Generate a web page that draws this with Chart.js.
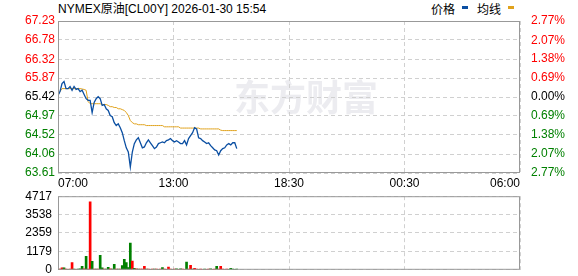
<!DOCTYPE html>
<html>
<head>
<meta charset="utf-8">
<script src="https://cdn.jsdelivr.net/npm/chart.js@4"></script>
<style>
  body { margin: 0; width: 578px; height: 276px; background: #fff; position: relative; overflow: hidden; }
  .txt { position: absolute; font-family: "Liberation Sans", "Noto Sans CJK SC", sans-serif; font-size: 12px; color: #000; white-space: nowrap; line-height: 14px; }
  .key { position: absolute; width: 6px; height: 3px; }
  #price { position: absolute; left: 0; top: 0; }
  #volume { position: absolute; left: 0; top: 183px; }
</style>
</head>
<body>
<div class="txt" id="title" style="left:58px;top:2px;">NYMEX原油[CL00Y] 2026-01-30 15:54</div>
<div class="txt" style="left:431px;top:2px;font-family:'Noto Sans CJK SC';">价格</div>
<div class="key" style="left:462px;top:6px;background:#0b4fa2;"></div>
<div class="txt" style="left:477px;top:2px;font-family:'Noto Sans CJK SC';">均线</div>
<div class="key" style="left:508px;top:6px;background:#e0a21c;"></div>
<canvas id="price" width="578" height="190"></canvas>
<canvas id="volume" width="578" height="100"></canvas>
<script>
// one sample every 6 minutes from 07:00
const step = 6;
const totalMinutes = 1380;
const prevClose = 65.42;

const timeLabels = ["07:00", "13:00", "18:30", "00:30", "06:00"];
const priceTicks = [63.61, 64.06, 64.52, 64.97, 65.42, 65.87, 66.32, 66.78, 67.23];
const pctTicks = [-2.77, -2.07, -1.38, -0.69, 0, 0.69, 1.38, 2.07, 2.77];
const volTicks = [0, 1179, 2359, 3538, 4717];

const price = [
  65.46, 65.55, 65.74, 65.79, 65.62, 65.62, 65.67, 65.58, 65.67, 65.60,
  65.62, 65.55, 65.58, 65.48, 65.38, 65.34, 65.34, 65.05, 65.29, 65.38,
  65.43, 65.38, 65.22, 65.24, 65.14, 65.10, 64.98, 64.95, 64.81, 64.74,
  64.78, 64.69, 64.57, 64.38, 64.21, 64.11, 63.75, 64.11, 64.31, 64.40,
  64.45, 64.33, 64.21, 64.23, 64.33, 64.40, 64.33, 64.26, 64.19, 64.23,
  64.31, 64.33, 64.35, 64.33, 64.38, 64.40, 64.43, 64.38, 64.35, 64.38,
  64.35, 64.31, 64.31, 64.38, 64.28, 64.43, 64.50, 64.57, 64.69, 64.66,
  64.45, 64.43, 64.38, 64.35, 64.31, 64.33, 64.26, 64.21, 64.16, 64.14,
  64.04, 64.14, 64.19, 64.21, 64.28, 64.31, 64.28, 64.33, 64.33, 64.19
];

const avg = [
  65.46, 65.55, 65.62, 65.62, 65.62, 65.62, 65.62, 65.62, 65.62, 65.62,
  65.62, 65.62, 65.61, 65.60, 65.58, 65.31, 65.26, 65.26, 65.26, 65.26,
  65.26, 65.26, 65.24, 65.24, 65.24, 65.22, 65.19, 65.19, 65.17, 65.17,
  65.14, 65.14, 65.12, 65.10, 65.05, 64.98, 64.86, 64.81, 64.78, 64.78,
  64.76, 64.76, 64.76, 64.76, 64.74, 64.74, 64.74, 64.74, 64.74, 64.74,
  64.74, 64.74, 64.74, 64.71, 64.71, 64.71, 64.71, 64.71, 64.71, 64.71,
  64.71, 64.68, 64.68, 64.68, 64.68, 64.68, 64.68, 64.68, 64.68, 64.68,
  64.68, 64.66, 64.66, 64.66, 64.66, 64.66, 64.66, 64.66, 64.66, 64.66,
  64.66, 64.63, 64.62, 64.62, 64.62, 64.62, 64.62, 64.62, 64.62, 64.62
];

const volume = [
  40, 50, 130, 130, 40, 30, 40, 470, 40, 30,
  40, 60, 215, 60, 860, 40, 4350, 540, 50, 40,
  40, 920, 130, 40, 40, 160, 60, 40, 345, 50,
  40, 40, 270, 665, 470, 150, 1715, 560, 100, 60,
  40, 40, 40, 215, 40, 40, 30, 40, 40, 40,
  30, 40, 140, 40, 30, 180, 40, 30, 40, 60,
  30, 70, 40, 30, 490, 40, 280, 50, 100, 40,
  30, 40, 30, 40, 30, 40, 60, 30, 40, 230,
  40, 230, 40, 30, 40, 30, 100, 40, 30, 40
];

// 1 = traded up (red), 0 = traded down (green)
const volUp = [
  0, 1, 1, 0, 1, 0, 1, 1, 0, 1,
  0, 0, 0, 1, 0, 1, 1, 0, 1, 0,
  1, 0, 0, 1, 0, 0, 1, 0, 0, 1,
  0, 1, 0, 0, 0, 0, 0, 1, 0, 1,
  0, 1, 1, 1, 0, 1, 0, 1, 0, 1,
  0, 1, 0, 1, 0, 1, 1, 0, 1, 0,
  1, 0, 1, 1, 0, 1, 1, 0, 1, 1,
  0, 1, 1, 0, 1, 1, 0, 1, 1, 0,
  1, 1, 1, 0, 1, 0, 0, 0, 0, 0
];

const RED = "#ff0000";
const GREEN = "#008000";
const FONT = { family: '"Liberation Sans", Arial, sans-serif', size: 12 };
const tickPos = timeLabels.map((t, i) => i * totalMinutes / (timeLabels.length - 1));

function upDownColor(v, base) {
  if (Math.abs(v - base) < 1e-6) return "#000";
  return v > base ? RED : GREEN;
}

const framePlugin = {
  id: "frame",
  afterDraw(chart) {
    const a = chart.chartArea;
    const ctx = chart.ctx;
    ctx.save();
    ctx.strokeStyle = "#999";
    ctx.lineWidth = 1;
    ctx.strokeRect(a.left + 0.5, a.top + 0.5, a.right - a.left - 1, a.bottom - a.top - 1);
    ctx.restore();
  }
};

const watermark = {
  id: "watermark",
  beforeDraw(chart) {
    const ctx = chart.ctx;
    ctx.save();
    ctx.fillStyle = "#ececf0";
    ctx.font = 'bold 36px "Noto Sans CJK SC"';
    ctx.textBaseline = "middle";
    ctx.fillText("东方财富", 234, 97);
    ctx.restore();
  }
};

const gridStyle = { color: "#d0d0d0", drawTicks: false };
const dashed = { display: false, dash: [4, 3] };

new Chart(document.getElementById("price"), {
  type: "line",
  data: {
    datasets: [
      {
        label: "价格",
        data: price.map((p, i) => ({ x: i * step, y: p })),
        borderColor: "#0b4fa2",
        borderWidth: 1.3,
        pointRadius: 0,
        yAxisID: "y",
      },
      {
        label: "均线",
        data: avg.map((p, i) => ({ x: i * step, y: p })),
        borderColor: "#e0a21c",
        borderWidth: 1,
        pointRadius: 0,
        yAxisID: "y",
      },
    ],
  },
  options: {
    responsive: false,
    animation: false,
    devicePixelRatio: 1,
    layout: { padding: { top: 21, left: 0, right: 0, bottom: 0 } },
    plugins: { legend: { display: false }, tooltip: { enabled: false } },
    scales: {
      x: {
        type: "linear",
        min: 0,
        max: totalMinutes,
        afterBuildTicks: (s) => { s.ticks = tickPos.map((v) => ({ value: v })); },
        afterFit: (s) => { s.height = 17; },
        ticks: {
          callback: (v, i) => timeLabels[i],
          align: "inner",
          maxRotation: 0,
          autoSkip: false,
          padding: 3,
          color: "#000",
          font: FONT,
        },
        grid: gridStyle,
        border: dashed,
      },
      y: {
        position: "left",
        min: priceTicks[0],
        max: priceTicks[priceTicks.length - 1],
        afterBuildTicks: (s) => { s.ticks = priceTicks.map((v) => ({ value: v })); },
        afterFit: (s) => { s.width = 58; },
        ticks: {
          callback: (v) => v.toFixed(2),
          autoSkip: false,
          padding: 3,
          font: FONT,
          color: (c) => upDownColor(c.tick.value, prevClose),
        },
        grid: gridStyle,
        border: dashed,
      },
      pct: {
        position: "right",
        min: pctTicks[0],
        max: pctTicks[pctTicks.length - 1],
        afterBuildTicks: (s) => { s.ticks = pctTicks.map((v) => ({ value: v })); },
        afterFit: (s) => { s.width = 58; },
        ticks: {
          callback: (v) => Math.abs(v).toFixed(2) + "%",
          autoSkip: false,
          padding: 3,
          font: FONT,
          color: (c) => upDownColor(c.tick.value, 0),
        },
        grid: { display: false },
        border: { display: false },
      },
    },
  },
  plugins: [watermark, framePlugin],
});

// the y tick padding also pads the plot vertically (about 13px), so no layout padding here
new Chart(document.getElementById("volume"), {
  type: "bar",
  data: {
    datasets: [
      {
        label: "成交量",
        data: volume.map((v, i) => ({ x: i * step, y: v })),
        backgroundColor: volUp.map((u) => (u ? RED : GREEN)),
        barThickness: 2,
        borderWidth: 0,
      },
    ],
  },
  options: {
    responsive: false,
    animation: false,
    devicePixelRatio: 1,
    layout: { padding: { top: 0, left: 0, right: 58, bottom: 0 } },
    plugins: { legend: { display: false }, tooltip: { enabled: false } },
    scales: {
      x: {
        type: "linear",
        min: 0,
        max: totalMinutes,
        offset: false,
        afterBuildTicks: (s) => { s.ticks = tickPos.map((v) => ({ value: v })); },
        afterFit: (s) => { s.height = 0; },
        ticks: { display: false },
        grid: { color: "#d0d0d0", drawTicks: false, offset: false },
        border: dashed,
      },
      y: {
        min: 0,
        max: volTicks[volTicks.length - 1],
        afterBuildTicks: (s) => { s.ticks = volTicks.map((v) => ({ value: v })); },
        afterFit: (s) => { s.width = 58; },
        ticks: {
          callback: (v) => String(v),
          autoSkip: false,
          padding: 6,
          font: FONT,
          color: "#000",
        },
        grid: gridStyle,
        border: dashed,
      },
    },
  },
  plugins: [framePlugin],
});
</script>
</body>
</html>
